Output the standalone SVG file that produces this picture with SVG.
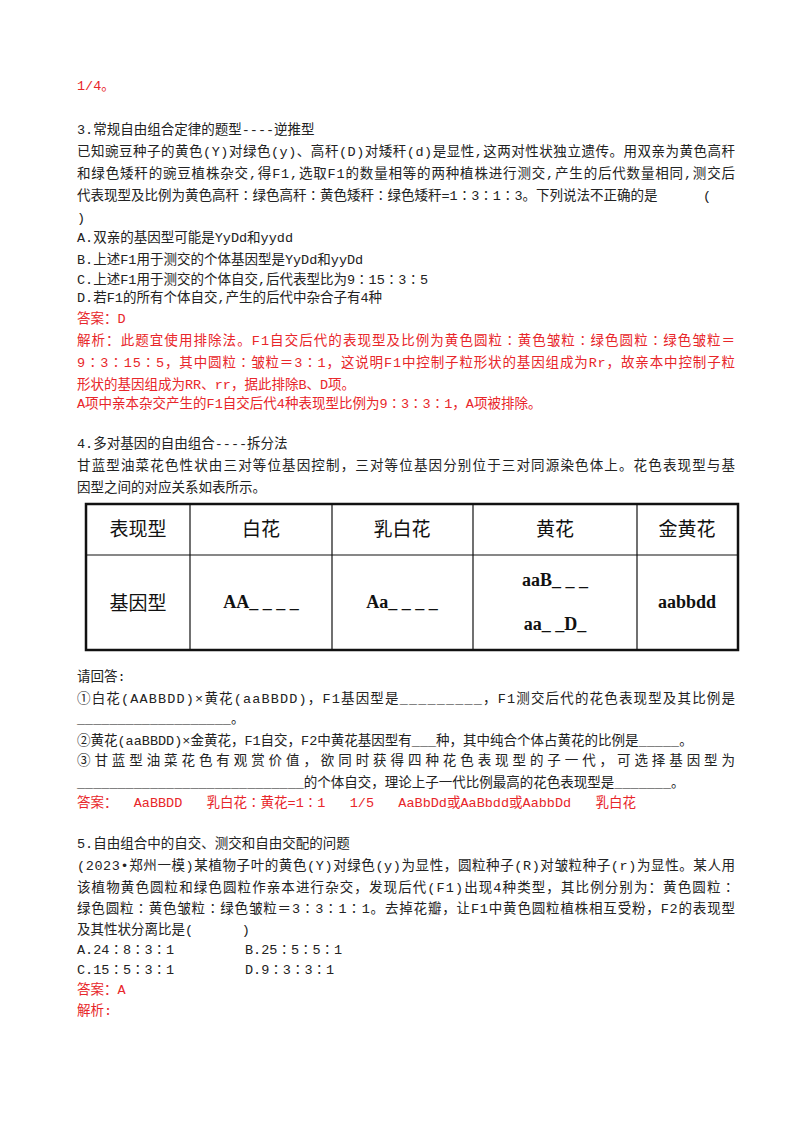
<svg xmlns="http://www.w3.org/2000/svg" width="800" height="1132" viewBox="0 0 800 1132">
<style>
text{font-family:"Liberation Mono","Noto Sans CJK SC",monospace;font-size:13.5px;fill:#222}
.r{fill:#e8262a}
.t{font-size:19px;text-anchor:middle;fill:#111}
.g{font-size:18px;font-weight:bold;text-anchor:middle;fill:#111;font-family:"Liberation Serif",serif}
</style>
<rect width="800" height="1132" fill="#fff"/>
<text class="r" x="77" y="90">1/4。</text>
<text x="77" y="134">3.常规自由组合定律的题型----逆推型</text>
<text x="77" y="156" textLength="658">已知豌豆种子的黄色(Y)对绿色(y)、高秆(D)对矮秆(d)是显性,这两对性状独立遗传。用双亲为黄色高秆</text>
<text x="77" y="178" textLength="658">和绿色矮秆的豌豆植株杂交,得F1,选取F1的数量相等的两种植株进行测交,产生的后代数量相同,测交后</text>
<text x="77" y="200">代表现型及比例为黄色高秆∶绿色高秆∶黄色矮秆∶绿色矮秆=1∶3∶1∶3。下列说法不正确的是</text>
<text x="703" y="200">(</text>
<text x="77" y="222">)</text>
<text x="77" y="242">A.双亲的基因型可能是YyDd和yydd</text>
<text x="77" y="264">B.上述F1用于测交的个体基因型是YyDd和yyDd</text>
<text x="77" y="284">C.上述F1用于测交的个体自交,后代表型比为9∶15∶3∶5</text>
<text x="77" y="302">D.若F1的所有个体自交,产生的后代中杂合子有4种</text>
<text class="r" x="77" y="323">答案：D</text>
<text class="r" x="77" y="345" textLength="658">解析：此题宜使用排除法。F1自交后代的表现型及比例为黄色圆粒∶黄色皱粒∶绿色圆粒∶绿色皱粒＝</text>
<text class="r" x="77" y="367" textLength="658">9∶3∶15∶5，其中圆粒∶皱粒＝3∶1，这说明F1中控制子粒形状的基因组成为Rr，故亲本中控制子粒</text>
<text class="r" x="77" y="389">形状的基因组成为RR、rr，据此排除B、D项。</text>
<text class="r" x="77" y="408">A项中亲本杂交产生的F1自交后代4种表现型比例为9∶3∶3∶1，A项被排除。</text>
<text x="77" y="448">4.多对基因的自由组合----拆分法</text>
<text x="77" y="470" textLength="658">甘蓝型油菜花色性状由三对等位基因控制，三对等位基因分别位于三对同源染色体上。花色表现型与基</text>
<text x="77" y="492">因型之间的对应关系如表所示。</text>
<g id="table" fill="none" stroke="#111">
<rect x="86" y="504" width="652" height="146" stroke-width="2.5"/>
<line x1="86" y1="555" x2="738" y2="555" stroke-width="1.2"/>
<line x1="190" y1="504" x2="190" y2="650" stroke-width="1.2"/>
<line x1="332" y1="504" x2="332" y2="650" stroke-width="1.2"/>
<line x1="473" y1="504" x2="473" y2="650" stroke-width="1.2"/>
<line x1="637" y1="504" x2="637" y2="650" stroke-width="1.2"/>
</g>
<text class="t" x="138" y="536">表现型</text>
<text class="t" x="261" y="536">白花</text>
<text class="t" x="402" y="536">乳白花</text>
<text class="t" x="555" y="536">黄花</text>
<text class="t" x="687" y="536">金黄花</text>
<text class="t" x="138" y="610">基因型</text>
<text class="g" x="261" y="608">AA_ _ _ _</text>
<text class="g" x="402" y="608">Aa_ _ _ _</text>
<text class="g" x="555" y="586">aaB_ _ _</text>
<text class="g" x="555" y="630">aa_ _D_</text>
<text class="g" x="687" y="608">aabbdd</text>
<text x="77" y="681">请回答:</text>
<text x="77" y="703" textLength="658">①白花(AABBDD)×黄花(aaBBDD)，F1基因型是_________，F1测交后代的花色表现型及其比例是</text>
<text x="77" y="723">___________________。</text>
<text x="77" y="745">②黄花(aaBBDD)×金黄花，F1自交，F2中黄花基因型有___种，其中纯合个体占黄花的比例是_____。</text>
<text x="77" y="765" textLength="658">③甘蓝型油菜花色有观赏价值，欲同时获得四种花色表现型的子一代，可选择基因型为</text>
<text x="77" y="787">____________________________的个体自交，理论上子一代比例最高的花色表现型是_______。</text>
<text class="r" x="77" y="807" xml:space="preserve">答案：  AaBBDD   乳白花∶黄花=1∶1   1/5   AaBbDd或AaBbdd或AabbDd   乳白花</text>
<text x="77" y="848">5.自由组合中的自交、测交和自由交配的问题</text>
<text x="77" y="870" textLength="658">(2023•郑州一模)某植物子叶的黄色(Y)对绿色(y)为显性，圆粒种子(R)对皱粒种子(r)为显性。某人用</text>
<text x="77" y="892" textLength="658">该植物黄色圆粒和绿色圆粒作亲本进行杂交，发现后代(F1)出现4种类型，其比例分别为：黄色圆粒∶</text>
<text x="77" y="913" textLength="658">绿色圆粒∶黄色皱粒∶绿色皱粒＝3∶3∶1∶1。去掉花瓣，让F1中黄色圆粒植株相互受粉，F2的表现型</text>
<text x="77" y="934" xml:space="preserve">及其性状分离比是(      )</text>
<text x="77" y="954">A.24∶8∶3∶1</text>
<text x="245" y="954">B.25∶5∶5∶1</text>
<text x="77" y="974">C.15∶5∶3∶1</text>
<text x="245" y="974">D.9∶3∶3∶1</text>
<text class="r" x="77" y="994">答案：A</text>
<text class="r" x="77" y="1015">解析:</text>
</svg>
